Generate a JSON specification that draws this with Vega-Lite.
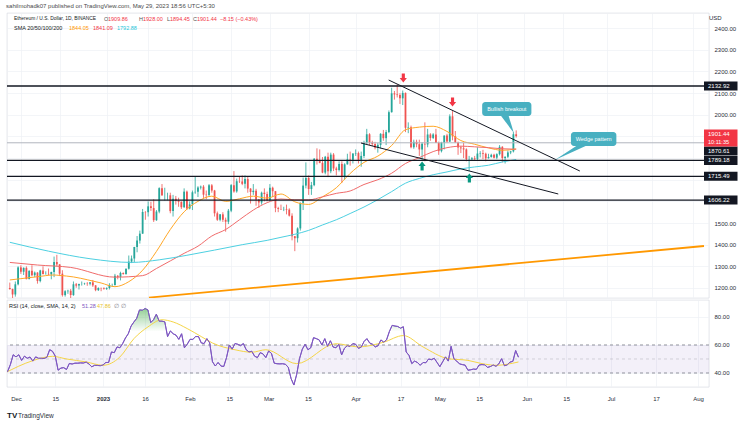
{
 "$schema": "https://vega.github.io/schema/vega-lite/v6.json",
 "background": "white",
 "padding": {"left": 6, "top": 2, "right": 0, "bottom": 0},
 "spacing": 0,
 "title": {"text": "sahilmohadk07 published on TradingView.com, May 29, 2023 18:56 UTC+5:30", "anchor": "start", "fontSize": 6, "fontWeight": "normal", "color": "#4a4a4a", "font": "Liberation Sans", "offset": 4},
 "config": {
  "font": "Liberation Sans",
  "view": {"stroke": "#d1d4dc", "strokeWidth": 0.6},
  "axis": {"labelFont": "Liberation Sans", "labelFontSize": 6, "labelColor": "#2a2e39", "gridColor": "#eef0f5", "gridWidth": 0.7, "ticks": false, "domain": false, "titleFont": "Liberation Sans", "labelOverlap": false}
 },
 "datasets": {
  "one": [{}],
  "candles": [
   {"t":"2022-11-27","o":1200,"h":1225,"l":1192,"c":1195,"rsi":43},
   {"t":"2022-11-28","o":1195,"h":1197,"l":1150,"c":1170,"rsi":41},
   {"t":"2022-11-29","o":1170,"h":1230,"l":1160,"c":1217,"rsi":46},
   {"t":"2022-11-30","o":1217,"h":1300,"l":1212,"c":1295,"rsi":53},
   {"t":"2022-12-01","o":1295,"h":1305,"l":1265,"c":1275,"rsi":51.5},
   {"t":"2022-12-02","o":1275,"h":1295,"l":1260,"c":1293,"rsi":53},
   {"t":"2022-12-03","o":1293,"h":1300,"l":1240,"c":1241,"rsi":49},
   {"t":"2022-12-04","o":1241,"h":1282,"l":1240,"c":1279,"rsi":52},
   {"t":"2022-12-05","o":1279,"h":1305,"l":1254,"c":1259,"rsi":50.5},
   {"t":"2022-12-06","o":1259,"h":1276,"l":1250,"c":1271,"rsi":51.4},
   {"t":"2022-12-07","o":1271,"h":1273,"l":1220,"c":1232,"rsi":48.5},
   {"t":"2022-12-08","o":1232,"h":1284,"l":1226,"c":1281,"rsi":51.5},
   {"t":"2022-12-09","o":1281,"h":1300,"l":1262,"c":1264,"rsi":50.5},
   {"t":"2022-12-10","o":1264,"h":1277,"l":1262,"c":1265,"rsi":50.5},
   {"t":"2022-12-11","o":1265,"h":1290,"l":1260,"c":1263,"rsi":50.4},
   {"t":"2022-12-12","o":1263,"h":1275,"l":1240,"c":1274,"rsi":51.2},
   {"t":"2022-12-13","o":1274,"h":1345,"l":1250,"c":1320,"rsi":56.6},
   {"t":"2022-12-14","o":1320,"h":1353,"l":1300,"c":1309,"rsi":55.5},
   {"t":"2022-12-15","o":1309,"h":1310,"l":1255,"c":1266,"rsi":52},
   {"t":"2022-12-16","o":1266,"h":1282,"l":1160,"c":1167,"rsi":42},
   {"t":"2022-12-17","o":1167,"h":1190,"l":1160,"c":1185,"rsi":43.5},
   {"t":"2022-12-18","o":1185,"h":1192,"l":1173,"c":1187,"rsi":43.8},
   {"t":"2022-12-19","o":1187,"h":1195,"l":1150,"c":1167,"rsi":42.5},
   {"t":"2022-12-20","o":1167,"h":1230,"l":1164,"c":1217,"rsi":46.8},
   {"t":"2022-12-21","o":1217,"h":1223,"l":1201,"c":1211,"rsi":46.4},
   {"t":"2022-12-22","o":1211,"h":1220,"l":1193,"c":1218,"rsi":47},
   {"t":"2022-12-23","o":1218,"h":1230,"l":1211,"c":1218,"rsi":47},
   {"t":"2022-12-24","o":1218,"h":1224,"l":1215,"c":1220,"rsi":47.2},
   {"t":"2022-12-25","o":1220,"h":1227,"l":1210,"c":1219,"rsi":47.1},
   {"t":"2022-12-26","o":1219,"h":1226,"l":1212,"c":1226,"rsi":47.8},
   {"t":"2022-12-27","o":1226,"h":1237,"l":1205,"c":1212,"rsi":46.4},
   {"t":"2022-12-28","o":1212,"h":1213,"l":1185,"c":1190,"rsi":44.4},
   {"t":"2022-12-29","o":1190,"h":1203,"l":1186,"c":1200,"rsi":45.5},
   {"t":"2022-12-30","o":1200,"h":1202,"l":1185,"c":1199,"rsi":45.4},
   {"t":"2022-12-31","o":1199,"h":1203,"l":1192,"c":1196,"rsi":45.2},
   {"t":"2023-01-01","o":1196,"h":1203,"l":1191,"c":1200,"rsi":45.7},
   {"t":"2023-01-02","o":1200,"h":1222,"l":1193,"c":1214,"rsi":47.5},
   {"t":"2023-01-03","o":1214,"h":1220,"l":1205,"c":1214,"rsi":47.5},
   {"t":"2023-01-04","o":1214,"h":1265,"l":1211,"c":1256,"rsi":55},
   {"t":"2023-01-05","o":1256,"h":1260,"l":1240,"c":1251,"rsi":54.5},
   {"t":"2023-01-06","o":1251,"h":1275,"l":1235,"c":1269,"rsi":58.6},
   {"t":"2023-01-07","o":1269,"h":1272,"l":1262,"c":1264,"rsi":58},
   {"t":"2023-01-08","o":1264,"h":1290,"l":1261,"c":1289,"rsi":61},
   {"t":"2023-01-09","o":1289,"h":1350,"l":1285,"c":1322,"rsi":65},
   {"t":"2023-01-10","o":1322,"h":1350,"l":1315,"c":1336,"rsi":68},
   {"t":"2023-01-11","o":1336,"h":1390,"l":1320,"c":1389,"rsi":73.5},
   {"t":"2023-01-12","o":1389,"h":1440,"l":1365,"c":1419,"rsi":76.4},
   {"t":"2023-01-13","o":1419,"h":1465,"l":1405,"c":1451,"rsi":79},
   {"t":"2023-01-14","o":1451,"h":1565,"l":1450,"c":1551,"rsi":85},
   {"t":"2023-01-15","o":1551,"h":1555,"l":1515,"c":1550,"rsi":84.8},
   {"t":"2023-01-16","o":1550,"h":1600,"l":1530,"c":1577,"rsi":86},
   {"t":"2023-01-17","o":1577,"h":1598,"l":1556,"c":1569,"rsi":85},
   {"t":"2023-01-18","o":1569,"h":1610,"l":1505,"c":1513,"rsi":76},
   {"t":"2023-01-19","o":1513,"h":1560,"l":1510,"c":1553,"rsi":78},
   {"t":"2023-01-20","o":1553,"h":1665,"l":1545,"c":1661,"rsi":82},
   {"t":"2023-01-21","o":1661,"h":1680,"l":1625,"c":1628,"rsi":77},
   {"t":"2023-01-22","o":1628,"h":1663,"l":1604,"c":1628,"rsi":77},
   {"t":"2023-01-23","o":1628,"h":1640,"l":1605,"c":1628,"rsi":76.5},
   {"t":"2023-01-24","o":1628,"h":1640,"l":1545,"c":1555,"rsi":66},
   {"t":"2023-01-25","o":1555,"h":1630,"l":1530,"c":1612,"rsi":70},
   {"t":"2023-01-26","o":1612,"h":1625,"l":1585,"c":1603,"rsi":68},
   {"t":"2023-01-27","o":1603,"h":1617,"l":1575,"c":1598,"rsi":67},
   {"t":"2023-01-28","o":1598,"h":1600,"l":1565,"c":1573,"rsi":64},
   {"t":"2023-01-29","o":1573,"h":1660,"l":1570,"c":1645,"rsi":68},
   {"t":"2023-01-30","o":1645,"h":1650,"l":1560,"c":1567,"rsi":58},
   {"t":"2023-01-31","o":1567,"h":1600,"l":1563,"c":1586,"rsi":60.5},
   {"t":"2023-02-01","o":1586,"h":1650,"l":1560,"c":1642,"rsi":64},
   {"t":"2023-02-02","o":1642,"h":1715,"l":1635,"c":1644,"rsi":64},
   {"t":"2023-02-03","o":1644,"h":1670,"l":1620,"c":1664,"rsi":66},
   {"t":"2023-02-04","o":1664,"h":1673,"l":1655,"c":1668,"rsi":66},
   {"t":"2023-02-05","o":1668,"h":1675,"l":1616,"c":1631,"rsi":61.5},
   {"t":"2023-02-06","o":1631,"h":1650,"l":1610,"c":1629,"rsi":61},
   {"t":"2023-02-07","o":1629,"h":1680,"l":1620,"c":1674,"rsi":64.5},
   {"t":"2023-02-08","o":1674,"h":1680,"l":1640,"c":1650,"rsi":61.5},
   {"t":"2023-02-09","o":1650,"h":1653,"l":1530,"c":1545,"rsi":48},
   {"t":"2023-02-10","o":1545,"h":1553,"l":1510,"c":1515,"rsi":45},
   {"t":"2023-02-11","o":1515,"h":1540,"l":1508,"c":1540,"rsi":47.5},
   {"t":"2023-02-12","o":1540,"h":1550,"l":1505,"c":1515,"rsi":45},
   {"t":"2023-02-13","o":1515,"h":1525,"l":1460,"c":1506,"rsi":44.6},
   {"t":"2023-02-14","o":1506,"h":1565,"l":1495,"c":1557,"rsi":51},
   {"t":"2023-02-15","o":1557,"h":1680,"l":1550,"c":1675,"rsi":60},
   {"t":"2023-02-16","o":1675,"h":1740,"l":1640,"c":1646,"rsi":57},
   {"t":"2023-02-17","o":1646,"h":1705,"l":1640,"c":1693,"rsi":61},
   {"t":"2023-02-18","o":1693,"h":1715,"l":1685,"c":1692,"rsi":60.5},
   {"t":"2023-02-19","o":1692,"h":1720,"l":1675,"c":1681,"rsi":59.5},
   {"t":"2023-02-20","o":1681,"h":1720,"l":1660,"c":1703,"rsi":61},
   {"t":"2023-02-21","o":1703,"h":1715,"l":1640,"c":1659,"rsi":56.6},
   {"t":"2023-02-22","o":1659,"h":1661,"l":1590,"c":1643,"rsi":55},
   {"t":"2023-02-23","o":1643,"h":1680,"l":1630,"c":1649,"rsi":55.5},
   {"t":"2023-02-24","o":1649,"h":1658,"l":1580,"c":1609,"rsi":52},
   {"t":"2023-02-25","o":1609,"h":1610,"l":1570,"c":1595,"rsi":51},
   {"t":"2023-02-26","o":1595,"h":1645,"l":1585,"c":1640,"rsi":54.5},
   {"t":"2023-02-27","o":1640,"h":1660,"l":1600,"c":1634,"rsi":53.6},
   {"t":"2023-02-28","o":1634,"h":1645,"l":1600,"c":1605,"rsi":51},
   {"t":"2023-03-01","o":1605,"h":1680,"l":1600,"c":1663,"rsi":55.7},
   {"t":"2023-03-02","o":1663,"h":1668,"l":1620,"c":1647,"rsi":54},
   {"t":"2023-03-03","o":1647,"h":1648,"l":1550,"c":1569,"rsi":47},
   {"t":"2023-03-04","o":1569,"h":1575,"l":1550,"c":1565,"rsi":46.6},
   {"t":"2023-03-05","o":1565,"h":1585,"l":1560,"c":1564,"rsi":46.5},
   {"t":"2023-03-06","o":1564,"h":1575,"l":1555,"c":1565,"rsi":46.6},
   {"t":"2023-03-07","o":1565,"h":1585,"l":1540,"c":1562,"rsi":46.2},
   {"t":"2023-03-08","o":1562,"h":1568,"l":1530,"c":1534,"rsi":44},
   {"t":"2023-03-09","o":1534,"h":1545,"l":1420,"c":1439,"rsi":36},
   {"t":"2023-03-10","o":1439,"h":1440,"l":1370,"c":1430,"rsi":31.4},
   {"t":"2023-03-11","o":1430,"h":1480,"l":1410,"c":1475,"rsi":39},
   {"t":"2023-03-12","o":1475,"h":1595,"l":1465,"c":1593,"rsi":50.2},
   {"t":"2023-03-13","o":1593,"h":1710,"l":1560,"c":1673,"rsi":57},
   {"t":"2023-03-14","o":1673,"h":1780,"l":1660,"c":1708,"rsi":60.5},
   {"t":"2023-03-15","o":1708,"h":1720,"l":1630,"c":1657,"rsi":56.6},
   {"t":"2023-03-16","o":1657,"h":1690,"l":1630,"c":1675,"rsi":58},
   {"t":"2023-03-17","o":1675,"h":1800,"l":1670,"c":1797,"rsi":65.2},
   {"t":"2023-03-18","o":1797,"h":1845,"l":1770,"c":1789,"rsi":64.5},
   {"t":"2023-03-19","o":1789,"h":1840,"l":1776,"c":1778,"rsi":63.6},
   {"t":"2023-03-20","o":1778,"h":1805,"l":1730,"c":1733,"rsi":60},
   {"t":"2023-03-21","o":1733,"h":1810,"l":1725,"c":1806,"rsi":64.5},
   {"t":"2023-03-22","o":1806,"h":1825,"l":1712,"c":1739,"rsi":59},
   {"t":"2023-03-23","o":1739,"h":1825,"l":1730,"c":1816,"rsi":63},
   {"t":"2023-03-24","o":1816,"h":1823,"l":1740,"c":1752,"rsi":58.5},
   {"t":"2023-03-25","o":1752,"h":1760,"l":1720,"c":1745,"rsi":58},
   {"t":"2023-03-26","o":1745,"h":1785,"l":1738,"c":1773,"rsi":60.5},
   {"t":"2023-03-27","o":1773,"h":1785,"l":1685,"c":1714,"rsi":52.9},
   {"t":"2023-03-28","o":1714,"h":1776,"l":1700,"c":1771,"rsi":57.6},
   {"t":"2023-03-29","o":1771,"h":1820,"l":1770,"c":1794,"rsi":59.5},
   {"t":"2023-03-30","o":1794,"h":1830,"l":1765,"c":1792,"rsi":59},
   {"t":"2023-03-31","o":1792,"h":1822,"l":1775,"c":1821,"rsi":61},
   {"t":"2023-04-01","o":1821,"h":1840,"l":1810,"c":1823,"rsi":60.5},
   {"t":"2023-04-02","o":1823,"h":1830,"l":1775,"c":1792,"rsi":57.6},
   {"t":"2023-04-03","o":1792,"h":1830,"l":1760,"c":1810,"rsi":58.5},
   {"t":"2023-04-04","o":1810,"h":1880,"l":1800,"c":1871,"rsi":62.5},
   {"t":"2023-04-05","o":1871,"h":1935,"l":1865,"c":1910,"rsi":64.5},
   {"t":"2023-04-06","o":1910,"h":1915,"l":1860,"c":1872,"rsi":61.4},
   {"t":"2023-04-07","o":1872,"h":1880,"l":1855,"c":1865,"rsi":60.5},
   {"t":"2023-04-08","o":1865,"h":1875,"l":1840,"c":1848,"rsi":58.6},
   {"t":"2023-04-09","o":1848,"h":1870,"l":1825,"c":1861,"rsi":59.5},
   {"t":"2023-04-10","o":1861,"h":1915,"l":1845,"c":1912,"rsi":63.6},
   {"t":"2023-04-11","o":1912,"h":1930,"l":1880,"c":1892,"rsi":62},
   {"t":"2023-04-12","o":1892,"h":1930,"l":1860,"c":1920,"rsi":63.6},
   {"t":"2023-04-13","o":1920,"h":2020,"l":1915,"c":2012,"rsi":69.5},
   {"t":"2023-04-14","o":2012,"h":2125,"l":2010,"c":2099,"rsi":74},
   {"t":"2023-04-15","o":2099,"h":2110,"l":2070,"c":2094,"rsi":73.5},
   {"t":"2023-04-16","o":2094,"h":2140,"l":2080,"c":2091,"rsi":73.2},
   {"t":"2023-04-17","o":2091,"h":2100,"l":2050,"c":2076,"rsi":72},
   {"t":"2023-04-18","o":2076,"h":2112,"l":2045,"c":2101,"rsi":73},
   {"t":"2023-04-19","o":2101,"h":2103,"l":1920,"c":1940,"rsi":55},
   {"t":"2023-04-20","o":1940,"h":1965,"l":1915,"c":1942,"rsi":52.6},
   {"t":"2023-04-21","o":1942,"h":1950,"l":1845,"c":1850,"rsi":46.7},
   {"t":"2023-04-22","o":1850,"h":1885,"l":1843,"c":1875,"rsi":48.5},
   {"t":"2023-04-23","o":1875,"h":1885,"l":1850,"c":1864,"rsi":47.5},
   {"t":"2023-04-24","o":1864,"h":1885,"l":1810,"c":1840,"rsi":45.5},
   {"t":"2023-04-25","o":1840,"h":1874,"l":1792,"c":1866,"rsi":47.5},
   {"t":"2023-04-26","o":1866,"h":1965,"l":1785,"c":1863,"rsi":47.3},
   {"t":"2023-04-27","o":1863,"h":1935,"l":1850,"c":1909,"rsi":50},
   {"t":"2023-04-28","o":1909,"h":1915,"l":1880,"c":1893,"rsi":49.5},
   {"t":"2023-04-29","o":1893,"h":1915,"l":1888,"c":1909,"rsi":50.5},
   {"t":"2023-04-30","o":1909,"h":1935,"l":1870,"c":1870,"rsi":47.5},
   {"t":"2023-05-01","o":1870,"h":1876,"l":1815,"c":1832,"rsi":44.5},
   {"t":"2023-05-02","o":1832,"h":1875,"l":1826,"c":1871,"rsi":48},
   {"t":"2023-05-03","o":1871,"h":1905,"l":1840,"c":1904,"rsi":51.5},
   {"t":"2023-05-04","o":1904,"h":1912,"l":1870,"c":1876,"rsi":48.5},
   {"t":"2023-05-05","o":1876,"h":2002,"l":1874,"c":1993,"rsi":59},
   {"t":"2023-05-06","o":1993,"h":2017,"l":1882,"c":1901,"rsi":50.2},
   {"t":"2023-05-07","o":1901,"h":1925,"l":1870,"c":1872,"rsi":48.5},
   {"t":"2023-05-08","o":1872,"h":1876,"l":1815,"c":1849,"rsi":46.5},
   {"t":"2023-05-09","o":1849,"h":1856,"l":1823,"c":1845,"rsi":46},
   {"t":"2023-05-10","o":1845,"h":1870,"l":1800,"c":1840,"rsi":45.6},
   {"t":"2023-05-11","o":1840,"h":1845,"l":1785,"c":1795,"rsi":42},
   {"t":"2023-05-12","o":1795,"h":1810,"l":1740,"c":1795.5,"rsi":42.3},
   {"t":"2023-05-13","o":1795,"h":1805,"l":1790,"c":1799,"rsi":42.8},
   {"t":"2023-05-14","o":1799,"h":1810,"l":1790,"c":1796,"rsi":42.6},
   {"t":"2023-05-15","o":1796,"h":1850,"l":1790,"c":1821,"rsi":45.7},
   {"t":"2023-05-16","o":1821,"h":1832,"l":1803,"c":1823,"rsi":46},
   {"t":"2023-05-17","o":1823,"h":1838,"l":1795,"c":1820,"rsi":45.8},
   {"t":"2023-05-18","o":1820,"h":1825,"l":1785,"c":1799,"rsi":44},
   {"t":"2023-05-19","o":1799,"h":1820,"l":1798,"c":1805,"rsi":44.6},
   {"t":"2023-05-20","o":1805,"h":1820,"l":1802,"c":1815,"rsi":45.7},
   {"t":"2023-05-21","o":1815,"h":1820,"l":1798,"c":1802,"rsi":44.8},
   {"t":"2023-05-22","o":1802,"h":1822,"l":1795,"c":1818,"rsi":46.5},
   {"t":"2023-05-23","o":1818,"h":1860,"l":1812,"c":1852,"rsi":50.2},
   {"t":"2023-05-24","o":1852,"h":1855,"l":1780,"c":1800,"rsi":45.2},
   {"t":"2023-05-25","o":1800,"h":1808,"l":1775,"c":1806,"rsi":45.8},
   {"t":"2023-05-26","o":1806,"h":1835,"l":1800,"c":1826,"rsi":47.8},
   {"t":"2023-05-27","o":1826,"h":1833,"l":1818,"c":1831,"rsi":48.3},
   {"t":"2023-05-28","o":1831,"h":1920,"l":1826,"c":1909.86,"rsi":56},
   {"t":"2023-05-29","o":1909.86,"h":1928,"l":1894.45,"c":1901.44,"rsi":51.28}
  ],
  "ma": [
   {"t":"2022-11-27","k":"20","v":1237},{"t":"2022-12-01","k":"20","v":1243},{"t":"2022-12-07","k":"20","v":1252},{"t":"2022-12-13","k":"20","v":1260},{"t":"2022-12-15","k":"20","v":1258},{"t":"2022-12-20","k":"20","v":1251},{"t":"2022-12-25","k":"20","v":1238},{"t":"2022-12-30","k":"20","v":1223},{"t":"2023-01-04","k":"20","v":1206},{"t":"2023-01-09","k":"20","v":1229},{"t":"2023-01-14","k":"20","v":1282},{"t":"2023-01-19","k":"20","v":1369},{"t":"2023-01-24","k":"20","v":1470},{"t":"2023-01-29","k":"20","v":1552},{"t":"2023-02-03","k":"20","v":1600},{"t":"2023-02-08","k":"20","v":1624},{"t":"2023-02-13","k":"20","v":1600},{"t":"2023-02-18","k":"20","v":1612},{"t":"2023-02-23","k":"20","v":1624},{"t":"2023-02-28","k":"20","v":1615},{"t":"2023-03-05","k":"20","v":1634},{"t":"2023-03-10","k":"20","v":1598},{"t":"2023-03-15","k":"20","v":1586},{"t":"2023-03-20","k":"20","v":1621},{"t":"2023-03-25","k":"20","v":1663},{"t":"2023-03-30","k":"20","v":1729},{"t":"2023-04-04","k":"20","v":1780},{"t":"2023-04-09","k":"20","v":1809},{"t":"2023-04-14","k":"20","v":1858},{"t":"2023-04-19","k":"20","v":1931},{"t":"2023-04-24","k":"20","v":1943},{"t":"2023-04-29","k":"20","v":1947},{"t":"2023-05-04","k":"20","v":1923},{"t":"2023-05-09","k":"20","v":1881},{"t":"2023-05-14","k":"20","v":1864},{"t":"2023-05-19","k":"20","v":1847},{"t":"2023-05-24","k":"20","v":1836},{"t":"2023-05-29","k":"20","v":1842},
   {"t":"2022-11-27","k":"50","v":1318},{"t":"2022-12-07","k":"50","v":1306},{"t":"2022-12-19","k":"50","v":1295},{"t":"2023-01-04","k":"50","v":1250},{"t":"2023-01-14","k":"50","v":1257},{"t":"2023-01-19","k":"50","v":1290},{"t":"2023-01-24","k":"50","v":1325},{"t":"2023-01-29","k":"50","v":1360},{"t":"2023-02-03","k":"50","v":1393},{"t":"2023-02-08","k":"50","v":1440},{"t":"2023-02-13","k":"50","v":1470},{"t":"2023-02-18","k":"50","v":1515},{"t":"2023-02-23","k":"50","v":1560},{"t":"2023-02-28","k":"50","v":1594},{"t":"2023-03-05","k":"50","v":1611},{"t":"2023-03-10","k":"50","v":1607},{"t":"2023-03-15","k":"50","v":1607},{"t":"2023-03-20","k":"50","v":1621},{"t":"2023-03-25","k":"50","v":1637},{"t":"2023-03-30","k":"50","v":1648},{"t":"2023-04-04","k":"50","v":1678},{"t":"2023-04-09","k":"50","v":1700},{"t":"2023-04-14","k":"50","v":1730},{"t":"2023-04-19","k":"50","v":1775},{"t":"2023-04-24","k":"50","v":1802},{"t":"2023-04-29","k":"50","v":1830},{"t":"2023-05-04","k":"50","v":1848},{"t":"2023-05-09","k":"50","v":1855},{"t":"2023-05-14","k":"50","v":1852},{"t":"2023-05-19","k":"50","v":1848},{"t":"2023-05-24","k":"50","v":1843},{"t":"2023-05-29","k":"50","v":1841},
   {"t":"2022-11-27","k":"100","v":1411},{"t":"2022-12-11","k":"100","v":1370},{"t":"2022-12-26","k":"100","v":1335},{"t":"2023-01-10","k":"100","v":1318},{"t":"2023-01-20","k":"100","v":1330},{"t":"2023-01-30","k":"100","v":1351},{"t":"2023-02-09","k":"100","v":1375},{"t":"2023-02-19","k":"100","v":1400},{"t":"2023-02-28","k":"100","v":1420},{"t":"2023-03-05","k":"100","v":1434},{"t":"2023-03-10","k":"100","v":1448},{"t":"2023-03-15","k":"100","v":1466},{"t":"2023-03-20","k":"100","v":1491},{"t":"2023-03-25","k":"100","v":1515},{"t":"2023-03-30","k":"100","v":1544},{"t":"2023-04-04","k":"100","v":1574},{"t":"2023-04-09","k":"100","v":1608},{"t":"2023-04-14","k":"100","v":1645},{"t":"2023-04-19","k":"100","v":1684},{"t":"2023-04-24","k":"100","v":1706},{"t":"2023-04-29","k":"100","v":1723},{"t":"2023-05-04","k":"100","v":1736},{"t":"2023-05-09","k":"100","v":1750},{"t":"2023-05-14","k":"100","v":1759},{"t":"2023-05-19","k":"100","v":1767},{"t":"2023-05-24","k":"100","v":1782},{"t":"2023-05-29","k":"100","v":1793}
  ],
  "rsima": [
   {"t":"2022-11-27","v":40},{"t":"2022-12-07","v":48.8},{"t":"2022-12-14","v":51.9},{"t":"2022-12-19","v":50},{"t":"2022-12-26","v":47.9},{"t":"2023-01-01","v":45.5},{"t":"2023-01-07","v":51.4},{"t":"2023-01-12","v":64.5},{"t":"2023-01-17","v":72.9},{"t":"2023-01-22","v":78},{"t":"2023-01-26","v":76.4},{"t":"2023-01-31","v":71.7},{"t":"2023-02-05","v":66},{"t":"2023-02-09","v":61.4},{"t":"2023-02-17","v":56.6},{"t":"2023-02-23","v":54.8},{"t":"2023-02-28","v":56.6},{"t":"2023-03-11","v":46.7},{"t":"2023-03-25","v":60.9},{"t":"2023-04-02","v":58.6},{"t":"2023-04-11","v":62},{"t":"2023-04-18","v":66.7},{"t":"2023-04-25","v":58.6},{"t":"2023-05-04","v":50.2},{"t":"2023-05-11","v":49},{"t":"2023-05-16","v":46.7},{"t":"2023-05-21","v":45.5},{"t":"2023-05-29","v":47.86}
  ],
  "levels": [{"p":2132.92,"label":"2132.92"},{"p":1789.18,"label":"1789.18"},{"p":1715.49,"label":"1715.49"},{"p":1606.22,"label":"1606.22"}],
  "wedge": [
   {"t":"2023-04-12T22:00:00Z","p":2160.6,"t2":"2023-06-21T00:00:00Z","p2":1740.3},
   {"t":"2023-04-02T22:00:00Z","p":1869.6,"t2":"2023-06-13T05:00:00Z","p2":1634.1}
  ],
  "support": [{"t":"2023-01-16T07:00:00Z","p":1155.6,"t2":"2023-08-04T21:00:00Z","p2":1393.9}],
  "arrowsDown": [{"t":"2023-04-18T05:00:00Z","p":2170},{"t":"2023-05-06T00:00:00Z","p":2059}],
  "arrowsUp": [{"t":"2023-04-25T00:00:00Z","p":1763},{"t":"2023-05-12T02:00:00Z","p":1708}],
  "callouts": [
   {"label":"Bullish breakout","t":"2023-05-16T17:00:00Z","t2":"2023-06-03T12:00:00Z","p":2059,"p2":1994.4,"tm":"2023-05-25T14:00:00Z","pm":2026.7},
   {"label":"Wedge pattern","t":"2023-06-17T19:00:00Z","t2":"2023-07-04T05:00:00Z","p":1920.5,"p2":1855.8,"tm":"2023-06-26T00:00:00Z","pm":1888}
  ],
  "tails": [
   {"label":"Bullish breakout","t":"2023-05-24T22:00:00Z","p":1999},
   {"label":"Wedge pattern","t":"2023-06-22T02:00:00Z","p":1860.5}
  ]
 },
 "vconcat": [
  {
   "width": 702,
   "height": 285,
   "resolve": {"axis": {"x": "independent", "y": "independent"}},
   "layer": [
    {
     "data": {"name": "candles"},
     "mark": {"type": "rule", "strokeWidth": 0.8, "clip": true},
     "encoding": {
      "x": {"field": "t", "type": "temporal", "title": null, "scale": {"type": "utc", "domain": [1669575801600, 1691183232000], "nice": false}, "axis": {"values": [1669852800000,1671062400000,1672531200000,1673827200000,1675209600000,1676419200000,1677628800000,1678838400000,1680307200000,1681689600000,1682899200000,1684108800000,1685577600000,1686787200000,1688169600000,1689552000000,1690848000000], "grid": true, "labels": false}},
      "y": {"field": "l", "type": "quantitative", "title": null, "scale": {"domain": [1153.7, 2470.1], "nice": false, "zero": false}, "axis": {"orient": "right", "values": [1200,1300,1400,1500,1600,1700,1800,1900,2000,2100,2200,2300,2400], "labelExpr": "datum.value >= 1600 && datum.value <= 1900 ? '' : format(datum.value, '.2f')", "grid": true, "labelPadding": 5, "labelOverlap": false}},
      "y2": {"field": "h"},
      "color": {"condition": {"test": "datum.c >= datum.o", "value": "#26a69a"}, "value": "#ef5350"}
     }
    },
    {
     "data": {"name": "candles"},
     "mark": {"type": "bar", "width": 1.8, "clip": true},
     "encoding": {
      "x": {"field": "t", "type": "temporal", "axis": null},
      "y": {"field": "o", "type": "quantitative", "axis": null},
      "y2": {"field": "c"},
      "color": {"condition": {"test": "datum.c >= datum.o", "value": "#26a69a"}, "value": "#ef5350"}
     }
    },
    {
     "data": {"name": "ma"},
     "mark": {"type": "line", "strokeWidth": 1, "interpolate": "monotone", "clip": true},
     "encoding": {
      "x": {"field": "t", "type": "temporal", "axis": null},
      "y": {"field": "v", "type": "quantitative", "axis": null},
      "color": {"field": "k", "type": "nominal", "scale": {"domain": ["20","50","100"], "range": ["#ffa726","#f06b6b","#4dd0e1"]}, "legend": null}
     }
    },
    {
     "data": {"name": "levels"},
     "mark": {"type": "rule", "color": "#131722", "strokeWidth": 1.3},
     "encoding": {"y": {"field": "p", "type": "quantitative", "axis": null}}
    },
    {
     "data": {"name": "one"},
     "mark": {"type": "rule", "color": "#b2b5be", "strokeWidth": 1},
     "encoding": {"y": {"datum": 1870.61, "type": "quantitative", "axis": null}}
    },
    {
     "data": {"name": "wedge"},
     "mark": {"type": "rule", "color": "#131722", "strokeWidth": 1},
     "encoding": {
      "x": {"field": "t", "type": "temporal", "axis": null},
      "x2": {"field": "t2"},
      "y": {"field": "p", "type": "quantitative", "axis": null},
      "y2": {"field": "p2"}
     }
    },
    {
     "data": {"name": "support"},
     "mark": {"type": "rule", "color": "#ff9800", "strokeWidth": 1.8, "clip": true},
     "encoding": {
      "x": {"field": "t", "type": "temporal", "axis": null},
      "x2": {"field": "t2"},
      "y": {"field": "p", "type": "quantitative", "axis": null},
      "y2": {"field": "p2"}
     }
    },
    {
     "data": {"name": "arrowsDown"},
     "mark": {"type": "point", "filled": true, "opacity": 1, "size": 81, "color": "#f23645", "shape": "M-0.35,-1L0.35,-1L0.35,0L0.8,0L0,1L-0.8,0L-0.35,0Z"},
     "encoding": {
      "x": {"field": "t", "type": "temporal", "axis": null},
      "y": {"field": "p", "type": "quantitative", "axis": null}
     }
    },
    {
     "data": {"name": "arrowsUp"},
     "mark": {"type": "point", "filled": true, "opacity": 1, "size": 81, "color": "#089981", "shape": "M-0.35,1L0.35,1L0.35,0L0.8,0L0,-1L-0.8,0L-0.35,0Z"},
     "encoding": {
      "x": {"field": "t", "type": "temporal", "axis": null},
      "y": {"field": "p", "type": "quantitative", "axis": null}
     }
    },
    {
     "data": {"name": "callouts"},
     "mark": {"type": "rect", "color": "#48b0c1", "cornerRadius": 3},
     "encoding": {
      "x": {"field": "t", "type": "temporal", "axis": null},
      "x2": {"field": "t2"},
      "y": {"field": "p", "type": "quantitative", "axis": null},
      "y2": {"field": "p2"}
     }
    },
    {
     "data": {"name": "tails"},
     "transform": [{"filter": "datum.label == 'Bullish breakout'"}],
     "mark": {"type": "point", "filled": true, "opacity": 1, "size": 400, "color": "#48b0c1", "shape": "M-0.45,0L0.35,0L0.9,1.8Z"},
     "encoding": {
      "x": {"field": "t", "type": "temporal", "axis": null},
      "y": {"field": "p", "type": "quantitative", "axis": null}
     }
    },
    {
     "data": {"name": "tails"},
     "transform": [{"filter": "datum.label == 'Wedge pattern'"}],
     "mark": {"type": "point", "filled": true, "opacity": 1, "size": 400, "color": "#48b0c1", "shape": "M-0.5,0L0.5,0L-2.8,1.5Z"},
     "encoding": {
      "x": {"field": "t", "type": "temporal", "axis": null},
      "y": {"field": "p", "type": "quantitative", "axis": null}
     }
    },
    {
     "data": {"name": "callouts"},
     "mark": {"type": "text", "color": "white", "fontSize": 5.5, "align": "center", "baseline": "middle"},
     "encoding": {
      "x": {"field": "tm", "type": "temporal", "axis": null},
      "y": {"field": "pm", "type": "quantitative", "axis": null},
      "text": {"field": "label"}
     }
    },
    {
     "data": {"name": "levels"},
     "mark": {"type": "rule", "color": "#131722", "strokeWidth": 9},
     "encoding": {
      "x": {"datum": 1691183232000, "type": "temporal", "axis": null},
      "x2": {"datum": 1692229536000},
      "y": {"field": "p", "type": "quantitative", "axis": null}
     }
    },
    {
     "data": {"name": "levels"},
     "mark": {"type": "text", "color": "white", "fontSize": 6, "align": "left", "baseline": "middle", "dx": 4},
     "encoding": {
      "x": {"datum": 1691183232000, "type": "temporal", "axis": null},
      "y": {"field": "p", "type": "quantitative", "axis": null},
      "text": {"field": "label"}
     }
    },
    {
     "data": {"name": "one"},
     "mark": {"type": "rule", "color": "#131722", "strokeWidth": 9},
     "encoding": {
      "x": {"datum": 1691183232000, "type": "temporal", "axis": null},
      "x2": {"datum": 1692229536000},
      "y": {"datum": 1833, "type": "quantitative", "axis": null}
     }
    },
    {
     "data": {"name": "one"},
     "mark": {"type": "text", "color": "white", "fontSize": 6, "align": "left", "baseline": "middle", "dx": 4, "text": "1870.61"},
     "encoding": {
      "x": {"datum": 1691183232000, "type": "temporal", "axis": null},
      "y": {"datum": 1833, "type": "quantitative", "axis": null}
     }
    },
    {
     "data": {"name": "one"},
     "mark": {"type": "rule", "color": "#f23645", "strokeWidth": 17},
     "encoding": {
      "x": {"datum": 1691183232000, "type": "temporal", "axis": null},
      "x2": {"datum": 1692229536000},
      "y": {"datum": 1893, "type": "quantitative", "axis": null}
     }
    },
    {
     "data": {"name": "one"},
     "mark": {"type": "text", "color": "white", "fontSize": 6, "align": "left", "baseline": "middle", "dx": 4, "dy": -4, "text": "1901.44"},
     "encoding": {
      "x": {"datum": 1691183232000, "type": "temporal", "axis": null},
      "y": {"datum": 1893, "type": "quantitative", "axis": null}
     }
    },
    {
     "data": {"name": "one"},
     "mark": {"type": "text", "color": "white", "fontSize": 5.5, "align": "left", "baseline": "middle", "dx": 4, "dy": 4, "text": "10:11:35"},
     "encoding": {
      "x": {"datum": 1691183232000, "type": "temporal", "axis": null},
      "y": {"datum": 1893, "type": "quantitative", "axis": null}
     }
    },
    {
     "data": {"name": "one"},
     "mark": {"type": "text", "color": "#2a2e39", "fontSize": 6, "align": "left", "baseline": "middle", "dx": 5, "dy": 5, "text": "USD"},
     "encoding": {"x": {"datum": 1691183232000, "type": "temporal", "axis": null}, "y": {"datum": 2470.1, "type": "quantitative", "axis": null}}
    },
    {
     "data": {"name": "one"},
     "mark": {"type": "text", "color": "#131722", "fontSize": 4.9, "align": "left", "baseline": "middle", "dx": 2, "dy": 6, "text": "Ethereum / U.S. Dollar, 1D, BINANCE"},
     "encoding": {"x": {"datum": 1669575801600, "type": "temporal", "axis": null}, "y": {"datum": 2470.1, "type": "quantitative", "axis": null}}
    },
    {
     "data": {"name": "one"},
     "mark": {"type": "text", "color": "#555", "fontSize": 5.5, "align": "left", "baseline": "middle", "dx": 92, "dy": 6, "text": "O"},
     "encoding": {"x": {"datum": 1669575801600, "type": "temporal", "axis": null}, "y": {"datum": 2470.1, "type": "quantitative", "axis": null}}
    },
    {
     "data": {"name": "one"},
     "mark": {"type": "text", "color": "#f23645", "fontSize": 5.5, "align": "left", "baseline": "middle", "dx": 96, "dy": 6, "text": "1909.86"},
     "encoding": {"x": {"datum": 1669575801600, "type": "temporal", "axis": null}, "y": {"datum": 2470.1, "type": "quantitative", "axis": null}}
    },
    {
     "data": {"name": "one"},
     "mark": {"type": "text", "color": "#555", "fontSize": 5.5, "align": "left", "baseline": "middle", "dx": 127, "dy": 6, "text": "H"},
     "encoding": {"x": {"datum": 1669575801600, "type": "temporal", "axis": null}, "y": {"datum": 2470.1, "type": "quantitative", "axis": null}}
    },
    {
     "data": {"name": "one"},
     "mark": {"type": "text", "color": "#f23645", "fontSize": 5.5, "align": "left", "baseline": "middle", "dx": 131, "dy": 6, "text": "1928.00"},
     "encoding": {"x": {"datum": 1669575801600, "type": "temporal", "axis": null}, "y": {"datum": 2470.1, "type": "quantitative", "axis": null}}
    },
    {
     "data": {"name": "one"},
     "mark": {"type": "text", "color": "#555", "fontSize": 5.5, "align": "left", "baseline": "middle", "dx": 155, "dy": 6, "text": "L"},
     "encoding": {"x": {"datum": 1669575801600, "type": "temporal", "axis": null}, "y": {"datum": 2470.1, "type": "quantitative", "axis": null}}
    },
    {
     "data": {"name": "one"},
     "mark": {"type": "text", "color": "#f23645", "fontSize": 5.5, "align": "left", "baseline": "middle", "dx": 158, "dy": 6, "text": "1894.45"},
     "encoding": {"x": {"datum": 1669575801600, "type": "temporal", "axis": null}, "y": {"datum": 2470.1, "type": "quantitative", "axis": null}}
    },
    {
     "data": {"name": "one"},
     "mark": {"type": "text", "color": "#555", "fontSize": 5.5, "align": "left", "baseline": "middle", "dx": 181, "dy": 6, "text": "C"},
     "encoding": {"x": {"datum": 1669575801600, "type": "temporal", "axis": null}, "y": {"datum": 2470.1, "type": "quantitative", "axis": null}}
    },
    {
     "data": {"name": "one"},
     "mark": {"type": "text", "color": "#f23645", "fontSize": 5.5, "align": "left", "baseline": "middle", "dx": 185, "dy": 6, "text": "1901.44"},
     "encoding": {"x": {"datum": 1669575801600, "type": "temporal", "axis": null}, "y": {"datum": 2470.1, "type": "quantitative", "axis": null}}
    },
    {
     "data": {"name": "one"},
     "mark": {"type": "text", "color": "#f23645", "fontSize": 5.5, "align": "left", "baseline": "middle", "dx": 208, "dy": 6, "text": "−8.15 (−0.43%)"},
     "encoding": {"x": {"datum": 1669575801600, "type": "temporal", "axis": null}, "y": {"datum": 2470.1, "type": "quantitative", "axis": null}}
    },
    {
     "data": {"name": "one"},
     "mark": {"type": "text", "color": "#131722", "fontSize": 5.5, "align": "left", "baseline": "middle", "dx": 2, "dy": 15, "text": "SMA 20/50/100/200"},
     "encoding": {"x": {"datum": 1669575801600, "type": "temporal", "axis": null}, "y": {"datum": 2470.1, "type": "quantitative", "axis": null}}
    },
    {
     "data": {"name": "one"},
     "mark": {"type": "text", "color": "#ff9800", "fontSize": 5.5, "align": "left", "baseline": "middle", "dx": 57, "dy": 15, "text": "1844.05"},
     "encoding": {"x": {"datum": 1669575801600, "type": "temporal", "axis": null}, "y": {"datum": 2470.1, "type": "quantitative", "axis": null}}
    },
    {
     "data": {"name": "one"},
     "mark": {"type": "text", "color": "#f23645", "fontSize": 5.5, "align": "left", "baseline": "middle", "dx": 81, "dy": 15, "text": "1841.09"},
     "encoding": {"x": {"datum": 1669575801600, "type": "temporal", "axis": null}, "y": {"datum": 2470.1, "type": "quantitative", "axis": null}}
    },
    {
     "data": {"name": "one"},
     "mark": {"type": "text", "color": "#26c6da", "fontSize": 5.5, "align": "left", "baseline": "middle", "dx": 105, "dy": 15, "text": "1792.88"},
     "encoding": {"x": {"datum": 1669575801600, "type": "temporal", "axis": null}, "y": {"datum": 2470.1, "type": "quantitative", "axis": null}}
    }
   ]
  },
  {
   "width": 702,
   "height": 87,
   "layer": [
    {
     "data": {"name": "candles"},
     "mark": {"type": "line", "color": "#7e57c2", "strokeWidth": 1, "clip": true},
     "encoding": {
      "x": {"field": "t", "type": "temporal", "title": null, "scale": {"type": "utc", "domain": [1669575801600, 1691183232000], "nice": false}, "axis": {"values": [1669852800000,1671062400000,1672531200000,1673827200000,1675209600000,1676419200000,1677628800000,1678838400000,1680307200000,1681689600000,1682899200000,1684108800000,1685577600000,1686787200000,1688169600000,1689552000000,1690848000000], "grid": true, "labelPadding": 8, "labelOverlap": false, "labelExpr": "utcdate(datum.value) == 1 ? (utcmonth(datum.value) == 0 ? utcFormat(datum.value, '%Y') : utcFormat(datum.value, '%b')) : utcFormat(datum.value, '%d')", "labelFontWeight": {"condition": {"test": "utcmonth(datum.value) == 0 && utcdate(datum.value) == 1", "value": "bold"}, "value": "normal"}}},
      "y": {"field": "rsi", "type": "quantitative", "title": null, "scale": {"domain": [30, 92.1], "nice": false, "zero": false}, "axis": {"orient": "right", "values": [40, 60, 80], "format": ".2f", "grid": true, "labelPadding": 5, "labelOverlap": false}}
     }
    },
    {
     "data": {"name": "one"},
     "mark": {"type": "rect", "color": "#7e57c2", "opacity": 0.09},
     "encoding": {
      "x": {"datum": 1669575801600, "type": "temporal", "title": null},
      "x2": {"datum": 1691183232000},
      "y": {"datum": 60, "type": "quantitative", "title": null},
      "y2": {"datum": 40}
     }
    },
    {
     "data": {"name": "one"},
     "mark": {"type": "rule", "color": "#787b86", "strokeDash": [3, 3], "strokeWidth": 0.8},
     "encoding": {"y": {"datum": 60, "type": "quantitative", "title": null}}
    },
    {
     "data": {"name": "one"},
     "mark": {"type": "rule", "color": "#787b86", "strokeDash": [3, 3], "strokeWidth": 0.8},
     "encoding": {"y": {"datum": 40, "type": "quantitative", "title": null}}
    },
    {
     "data": {"name": "one"},
     "mark": {"type": "rule", "color": "#9598a1", "strokeDash": [3, 3], "strokeWidth": 0.6, "opacity": 0.6},
     "encoding": {"y": {"datum": 50, "type": "quantitative", "title": null}}
    },
    {
     "data": {"name": "candles"},
     "transform": [{"filter": "datum.rsi > 70.1 && time(datum.t) < 1676419200000"}],
     "mark": {"type": "area", "clip": true, "color": {"gradient": "linear", "x1": 1, "x2": 1, "y1": 0, "y2": 1, "stops": [{"offset": 0, "color": "rgba(76,175,80,0.6)"}, {"offset": 1, "color": "rgba(76,175,80,0.02)"}]}},
     "encoding": {
      "x": {"field": "t", "type": "temporal", "title": null},
      "y": {"field": "rsi", "type": "quantitative", "title": null},
      "y2": {"datum": 70}
     }
    },
    {
     "data": {"name": "candles"},
     "transform": [{"filter": "datum.rsi > 70.1 && time(datum.t) > 1676419200000"}],
     "mark": {"type": "area", "clip": true, "color": {"gradient": "linear", "x1": 1, "x2": 1, "y1": 0, "y2": 1, "stops": [{"offset": 0, "color": "rgba(76,175,80,0.18)"}, {"offset": 1, "color": "rgba(76,175,80,0.02)"}]}},
     "encoding": {
      "x": {"field": "t", "type": "temporal", "title": null},
      "y": {"field": "rsi", "type": "quantitative", "title": null},
      "y2": {"datum": 70}
     }
    },
    {
     "data": {"name": "rsima"},
     "mark": {"type": "line", "color": "#f5d547", "strokeWidth": 1, "interpolate": "monotone", "clip": true},
     "encoding": {
      "x": {"field": "t", "type": "temporal", "title": null},
      "y": {"field": "v", "type": "quantitative", "title": null}
     }
    },
    {
     "data": {"name": "candles"},
     "mark": {"type": "line", "color": "#7e57c2", "strokeWidth": 1, "clip": true},
     "encoding": {
      "x": {"field": "t", "type": "temporal", "title": null},
      "y": {"field": "rsi", "type": "quantitative", "title": null}
     }
    },
    {
     "data": {"name": "one"},
     "mark": {"type": "text", "color": "#131722", "fontSize": 8, "fontWeight": "bold", "align": "left", "baseline": "middle", "dx": 0, "dy": 29, "text": "TV"},
     "encoding": {"x": {"datum": 1669575801600, "type": "temporal", "title": null}, "y": {"datum": 30, "type": "quantitative", "title": null}}
    },
    {
     "data": {"name": "one"},
     "mark": {"type": "text", "color": "#2a2e39", "fontSize": 6.5, "align": "left", "baseline": "middle", "dx": 11, "dy": 29, "text": "TradingView"},
     "encoding": {"x": {"datum": 1669575801600, "type": "temporal", "title": null}, "y": {"datum": 30, "type": "quantitative", "title": null}}
    },
    {
     "data": {"name": "one"},
     "mark": {"type": "text", "color": "#131722", "fontSize": 5.5, "align": "left", "baseline": "middle", "dx": 2, "dy": 6, "text": "RSI (14, close, SMA, 14, 2)"},
     "encoding": {"x": {"datum": 1669575801600, "type": "temporal", "title": null}, "y": {"datum": 92.1, "type": "quantitative", "title": null}}
    },
    {
     "data": {"name": "one"},
     "mark": {"type": "text", "color": "#7e57c2", "fontSize": 5.5, "align": "left", "baseline": "middle", "dx": 75, "dy": 6, "text": "51.28"},
     "encoding": {"x": {"datum": 1669575801600, "type": "temporal", "title": null}, "y": {"datum": 92.1, "type": "quantitative", "title": null}}
    },
    {
     "data": {"name": "one"},
     "mark": {"type": "text", "color": "#e6c229", "fontSize": 5.5, "align": "left", "baseline": "middle", "dx": 90, "dy": 6, "text": "47.86"},
     "encoding": {"x": {"datum": 1669575801600, "type": "temporal", "title": null}, "y": {"datum": 92.1, "type": "quantitative", "title": null}}
    },
    {
     "data": {"name": "one"},
     "mark": {"type": "text", "color": "#787b86", "fontSize": 5.5, "align": "left", "baseline": "middle", "dx": 107, "dy": 6, "text": "∅  ∅"},
     "encoding": {"x": {"datum": 1669575801600, "type": "temporal", "title": null}, "y": {"datum": 92.1, "type": "quantitative", "title": null}}
    }
   ]
  }
 ]
}
